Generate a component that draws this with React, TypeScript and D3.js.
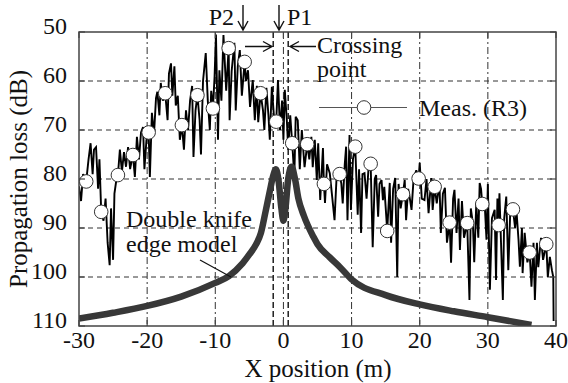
import React from "react";
import * as d3 from "d3";

const WIDTH = 568;
const HEIGHT = 383;

// Axis ticks and grid positions
const xTickValues = [-30, -20, -10, 0, 10, 20, 30, 40];
const yTickValues = [50, 60, 70, 80, 90, 100, 110];
const xGridValues = [-20, -10, 0, 10, 20, 30];
const yGridValues = [60, 70, 80, 90, 100];

// Knife-edge positions (m)
const edgeP2 = -1.5;
const edgeP1 = 0.7;

// Measured propagation loss along the route: [x (m), loss (dB)]
const measured: [number, number][] = [
  [-30.0, 81.5], [-29.7, 84.5], [-29.4, 79], [-28.94, 80.5], [-28.6, 76], [-28.3, 72.7],
  [-28.0, 79], [-27.8, 74], [-27.5, 73.5], [-27.2, 82], [-27.0, 76], [-26.74, 86.7],
  [-26.4, 88.5], [-26.1, 84], [-25.8, 93], [-25.5, 97.6], [-25.3, 86], [-25.0, 96.5],
  [-24.8, 83], [-24.5, 80], [-24.29, 79.2], [-24.0, 74], [-23.7, 78.5], [-23.4, 74.5],
  [-23.1, 77.5], [-22.8, 73.5], [-22.5, 78], [-22.3, 76.5], [-22.09, 75.1], [-21.8, 79.6],
  [-21.5, 71.4], [-21.2, 76], [-20.9, 70.5], [-20.6, 69.4], [-20.4, 78], [-20.1, 72],
  [-19.78, 70.5], [-19.6, 79.6], [-19.3, 66.5], [-19.0, 71], [-18.7, 63.5], [-18.5, 62.2],
  [-18.2, 67], [-18.0, 60.4], [-17.7, 64], [-17.35, 62.5], [-17.0, 68], [-16.8, 58.5],
  [-16.5, 56.4], [-16.3, 63], [-16.0, 57], [-15.8, 65], [-15.5, 63], [-15.2, 72],
  [-14.9, 69], [-14.6, 74], [-14.3, 66], [-14.0, 70], [-13.7, 64], [-13.4, 61],
  [-13.2, 75.5], [-12.9, 66], [-12.62, 62.9], [-12.3, 68], [-12.1, 75], [-11.8, 60],
  [-11.4, 54.3], [-11.1, 64], [-10.8, 70], [-10.6, 62], [-10.35, 65.6], [-10.1, 59],
  [-9.9, 50.5], [-9.6, 72], [-9.4, 57.8], [-9.1, 64], [-8.8, 50.6], [-8.4, 62],
  [-8.04, 53.3], [-7.9, 68], [-7.6, 58], [-7.2, 52.2], [-7.0, 66], [-6.7, 57],
  [-6.4, 53.7], [-6.1, 63], [-5.69, 56.1], [-5.5, 60], [-5.2, 57.8], [-4.9, 65.3],
  [-4.5, 59.8], [-4.2, 68], [-3.9, 61], [-3.7, 68.4], [-3.35, 62.5], [-3.0, 66],
  [-2.8, 70], [-2.5, 61.4], [-2.2, 67], [-2.0, 72], [-1.7, 61.2], [-1.3, 69],
  [-1.06, 68.3], [-0.8, 59.8], [-0.5, 70], [-0.2, 64], [0.0, 72], [0.2, 61.8],
  [0.5, 68], [0.7, 74], [1.0, 67], [1.29, 72.7], [1.6, 79.6], [1.8, 67.3],
  [2.1, 68], [2.4, 78], [2.7, 70], [3.1, 77.6], [3.49, 72.9], [3.8, 76],
  [4.1, 71.4], [4.3, 77.6], [4.6, 72], [4.9, 80.2], [5.1, 72.7], [5.4, 84.3],
  [5.8, 73.7], [5.94, 81], [6.1, 84.9], [6.4, 77], [6.8, 78.8], [7.1, 82.9],
  [7.5, 88.4], [7.8, 79.6], [8.25, 79], [8.5, 81], [8.7, 85], [9.0, 77],
  [9.2, 73.4], [9.4, 88.4], [9.7, 71], [9.9, 86.3], [10.2, 76], [10.54, 73.4],
  [10.9, 87.3], [11.1, 78], [11.4, 91], [11.6, 79], [11.9, 78.8], [12.2, 84],
  [12.5, 77.5], [12.8, 76.9], [13.1, 93.9], [13.4, 80], [13.6, 79.2], [13.9, 87.7],
  [14.1, 81], [14.4, 80.2], [14.6, 84.3], [14.8, 81.6], [15.0, 85.7], [15.23, 90.6],
  [15.6, 80.8], [15.8, 93], [16.1, 82], [16.4, 79.8], [16.7, 100], [16.9, 81],
  [17.2, 86], [17.54, 83.1], [17.8, 80.2], [18.0, 88.4], [18.3, 82], [18.5, 83.5],
  [18.8, 86.3], [19.1, 80], [19.5, 78.2], [19.84, 79.9], [20.0, 76.7], [20.3, 84],
  [20.7, 84.3], [21.0, 80], [21.3, 87], [21.7, 79.8], [21.9, 86.3], [22.19, 81.6],
  [22.5, 85], [22.9, 80.8], [23.1, 91], [23.4, 83], [23.7, 81.8], [24.0, 93],
  [24.39, 88.9], [24.6, 97.1], [24.9, 84], [25.1, 82.2], [25.4, 91], [25.7, 84],
  [25.9, 94.5], [26.2, 84.5], [26.5, 92], [26.97, 89], [27.3, 104.7], [27.5, 86],
  [27.8, 89], [28.0, 97], [28.3, 85], [28.6, 92], [28.8, 80.8], [29.0, 82],
  [29.18, 85.1], [29.5, 84], [29.8, 92.4], [30.0, 81], [30.3, 102.6], [30.6, 88],
  [31.0, 86.3], [31.2, 100.6], [31.4, 84], [31.58, 89.4], [31.7, 82.9], [32.2, 104.7],
  [32.4, 88], [32.7, 83.6], [33.0, 98.6], [33.3, 86], [33.68, 86.2], [34.0, 90],
  [34.2, 86.5], [34.5, 92.4], [34.7, 97.9], [35.0, 90], [35.1, 99.2], [35.4, 91],
  [35.8, 97], [36.13, 95], [36.4, 102], [36.7, 93], [36.9, 104.7], [37.2, 93],
  [37.4, 98], [37.8, 92], [38.1, 96.5], [38.57, 93.3], [38.8, 100], [39.1, 95.9],
  [39.4, 98.6], [39.6, 100], [39.65, 109],
];

// Sampled points shown with circle markers
const measuredMarkers: [number, number][] = [
  [-28.94, 80.5], [-26.74, 86.7], [-24.29, 79.2], [-22.09, 75.1], [-19.78, 70.5],
  [-17.35, 62.5], [-14.9, 69], [-12.62, 62.9], [-10.35, 65.6], [-8.04, 53.3],
  [-5.69, 56.1], [-3.35, 62.5], [-1.06, 68.3], [1.29, 72.7], [3.49, 72.9],
  [5.94, 81], [8.25, 79], [10.54, 73.4], [12.8, 76.9], [15.23, 90.6],
  [17.54, 83.1], [19.84, 79.9], [22.19, 81.6], [24.39, 88.9], [26.97, 89],
  [29.18, 85.1], [31.58, 89.4], [33.68, 86.2], [36.13, 95], [38.57, 93.3],
];

// Double knife-edge diffraction model: [x (m), loss (dB)]
const knifeEdgeModel: [number, number][] = [
  [-30, 108.5], [-25, 107.3], [-20, 105.9], [-15, 104], [-10, 101.2], [-8, 99.8],
  [-6, 97.2], [-5, 95.4], [-4, 93.3], [-3.3, 91], [-2.6, 86.5], [-2, 82.5],
  [-1.5, 79.3], [-1.1, 78], [-0.7, 80.5], [-0.3, 86], [0, 88.5], [0.3, 86],
  [0.7, 80], [1.2, 77.5], [1.7, 80], [2.2, 84], [3, 87.5], [4.4, 91.8],
  [5, 93.3], [6.8, 96], [8.3, 98], [10, 100.5], [15, 103.7], [20, 105.6],
  [25, 107], [30, 108.2], [36.4, 109.8],
];

const FONT = '"Liberation Serif"';

function arrowPath(x1: number, y1: number, x2: number, y2: number, len = 8, half = 4.5) {
  const dx = x2 - x1;
  const dy = y2 - y1;
  const d = Math.hypot(dx, dy);
  const ux = dx / d;
  const uy = dy / d;
  const bx = x2 - ux * len;
  const by = y2 - uy * len;
  const px = -uy * half;
  const py = ux * half;
  return `M${x1},${y1}L${x2},${y2}M${bx + px},${by + py}L${x2},${y2}L${bx - px},${by - py}`;
}

function Label(props: { x: number; y: number; anchor?: "start" | "middle" | "end"; size?: number; children: React.ReactNode; transform?: string }) {
  const { x, y, anchor = "start", size = 24, children, transform } = props;
  return (
    <text x={x} y={y} textAnchor={anchor} fontSize={size} fill="#111" style={{ fontFamily: FONT }} transform={transform}>
      {children}
    </text>
  );
}

export default function App() {
  const x = d3.scaleLinear().domain([-30, 40]).range([79, 556]);
  const y = d3.scaleLinear().domain([50, 110]).range([32, 326]);
  const [x0, x1] = x.range();
  const [y0, y1] = y.range();

  const measLine = d3
    .line<[number, number]>()
    .x((d) => x(d[0]))
    .y((d) => y(d[1]));
  const modelLine = d3
    .line<[number, number]>()
    .x((d) => x(d[0]))
    .y((d) => y(d[1]))
    .curve(d3.curveMonotoneX);

  const tickLen = 6;

  return (
    <svg width={WIDTH} height={HEIGHT} style={{ position: "absolute", left: 0, top: 0, background: "#fff" }}>
      <defs>
        <clipPath id="plot-clip">
          <rect x={x0} y={y0} width={x1 - x0} height={y1 - y0} />
        </clipPath>
      </defs>
      <rect width={WIDTH} height={HEIGHT} fill="#fff" />

      {/* grid */}
      {yGridValues.map((v) => (
        <line key={`gy${v}`} x1={x0} x2={x1} y1={y(v)} y2={y(v)} stroke="#333" strokeWidth={1} strokeDasharray="5,4" />
      ))}
      {xGridValues.map((v) => (
        <line key={`gx${v}`} x1={x(v)} x2={x(v)} y1={y0} y2={y1} stroke="#333" strokeWidth={1} strokeDasharray="7,3,2,3" />
      ))}

      {/* knife-edge positions */}
      {[edgeP2, edgeP1].map((v) => (
        <line key={`edge${v}`} x1={x(v)} x2={x(v)} y1={y0} y2={y1} stroke="#111" strokeWidth={1.4} strokeDasharray="6,3" />
      ))}

      <g clipPath="url(#plot-clip)">
        <path d={measLine(measured) ?? ""} fill="none" stroke="#000" strokeWidth={1.9} strokeLinejoin="miter" strokeMiterlimit={3} />
        <path d={modelLine(knifeEdgeModel) ?? ""} fill="none" stroke="#383838" strokeWidth={6.5} />
        {measuredMarkers.map((d, i) => (
          <circle key={`m${i}`} cx={x(d[0])} cy={y(d[1])} r={6.8} fill="#fff" stroke="#333" strokeWidth={1} />
        ))}
      </g>

      {/* frame and ticks */}
      <rect x={x0} y={y0} width={x1 - x0} height={y1 - y0} fill="none" stroke="#444" strokeWidth={1.5} />
      {xTickValues.map((v) => (
        <g key={`tx${v}`}>
          <line x1={x(v)} x2={x(v)} y1={y1} y2={y1 - tickLen} stroke="#444" strokeWidth={1.2} />
          <line x1={x(v)} x2={x(v)} y1={y0} y2={y0 + tickLen} stroke="#444" strokeWidth={1.2} />
          <Label x={x(v)} y={348} anchor="middle">{v}</Label>
        </g>
      ))}
      {yTickValues.map((v) => (
        <g key={`ty${v}`}>
          <line x1={x0} x2={x0 + tickLen} y1={y(v)} y2={y(v)} stroke="#444" strokeWidth={1.2} />
          <line x1={x1} x2={x1 - tickLen} y1={y(v)} y2={y(v)} stroke="#444" strokeWidth={1.2} />
          <Label x={67} y={y(v) + 1.5} anchor="end">{v}</Label>
        </g>
      ))}

      {/* axis titles */}
      <Label x={318} y={377} anchor="middle" size={25}>X position (m)</Label>
      <Label x={0} y={0} anchor="middle" size={25} transform={`translate(27,${(y0 + y1) / 2}) rotate(-90)`}>
        Propagation loss (dB)
      </Label>

      {/* knife-edge labels and arrows */}
      <Label x={234} y={25} anchor="end">P2</Label>
      <Label x={287} y={25}>P1</Label>
      <path d={arrowPath(243, 5, 243, 30, 9, 5)} fill="none" stroke="#111" strokeWidth={1.4} />
      <path d={arrowPath(279, 5, 279, 30, 9, 5)} fill="none" stroke="#111" strokeWidth={1.4} />
      <path d={arrowPath(245, 46.5, 272, 46.5, 9, 5)} fill="none" stroke="#111" strokeWidth={1.4} />
      <path d={arrowPath(316, 46.5, 290, 46.5, 9, 5)} fill="none" stroke="#111" strokeWidth={1.4} />
      <Label x={317} y={53}>Crossing</Label>
      <Label x={317} y={77}>point</Label>

      {/* legend */}
      <line x1={319} x2={407} y1={107.5} y2={107.5} stroke="#555" strokeWidth={1.2} />
      <circle cx={364} cy={107.5} r={6.8} fill="#fff" stroke="#333" strokeWidth={1} />
      <Label x={419} y={116}>Meas. (R3)</Label>

      {/* model annotation */}
      <Label x={126} y={227}>Double knife</Label>
      <Label x={126} y={252}>edge model</Label>
      <line x1={200} y1={260} x2={231} y2={277} stroke="#111" strokeWidth={1.2} />
    </svg>
  );
}
